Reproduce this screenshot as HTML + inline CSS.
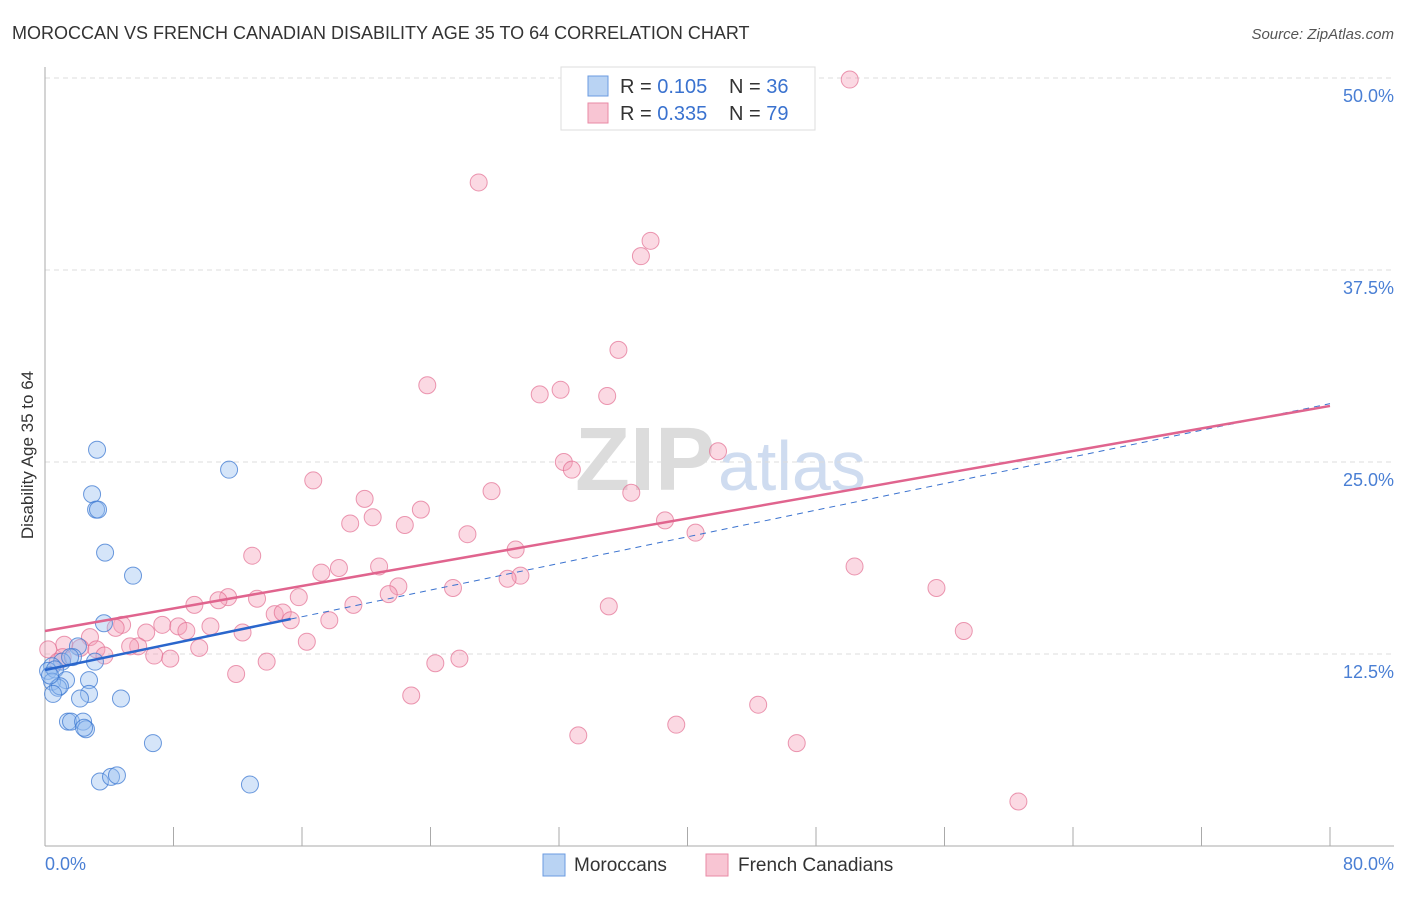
<!DOCTYPE html>
<html><head><meta charset="utf-8"><style>
body{margin:0;background:#fff;font-family:"Liberation Sans",sans-serif;}
svg text{font-family:"Liberation Sans",sans-serif;}
</style></head><body>
<svg id="chart" width="1406" height="892">
<text x="12" y="39" font-size="18" fill="#333">MOROCCAN VS FRENCH CANADIAN DISABILITY AGE 35 TO 64 CORRELATION CHART</text>
<text x="1394" y="39" font-size="15" fill="#555" font-style="italic" text-anchor="end">Source: ZipAtlas.com</text>
<text x="715" y="490" font-size="90" fill="#dcdcdc" text-anchor="end" font-family="Liberation Serif" font-weight="bold">ZIP</text>
<text x="718" y="490" font-size="70" fill="#cfdcf0">atlas</text>
<g id="grid"></g><g id="axes"></g><g id="marks"></g>
<text x="33" y="455" font-size="17" fill="#333" text-anchor="middle" transform="rotate(-90 33 455)">Disability Age 35 to 64</text>
<text x="45" y="870" font-size="18" fill="#4a7fd4">0.0%</text>
<text x="1394" y="870" font-size="18" fill="#4a7fd4" text-anchor="end">80.0%</text>
<g>
<rect x="561" y="67" width="254" height="63" fill="#fff" stroke="#ddd"/>
<rect x="588" y="76" width="20" height="20" fill="#b9d3f3" stroke="#6b9be0"/>
<rect x="588" y="103" width="20" height="20" fill="#f8c5d3" stroke="#e98aa6"/>
<text x="620" y="93" font-size="20" fill="#333">R = <tspan fill="#3a72cf">0.105</tspan></text>
<text x="729" y="93" font-size="20" fill="#333">N = <tspan fill="#3a72cf">36</tspan></text>
<text x="620" y="120" font-size="20" fill="#333">R = <tspan fill="#3a72cf">0.335</tspan></text>
<text x="729" y="120" font-size="20" fill="#333">N = <tspan fill="#3a72cf">79</tspan></text>
</g>
<g>
<rect x="543" y="854" width="22" height="22" fill="#b9d3f3" stroke="#6b9be0"/>
<text x="574" y="871" font-size="19" fill="#333">Moroccans</text>
<rect x="706" y="854" width="22" height="22" fill="#f8c5d3" stroke="#e98aa6"/>
<text x="738" y="871" font-size="19" fill="#333">French Canadians</text>
</g>
</svg>
<script>
const yTicks=[12.5,25,37.5,50];
const yTickLabels=["12.5%","25.0%","37.5%","50.0%"];
const xTicks=[0,8,16,24,32,40,48,56,64,72,80];
const blueX=[3.24,11.46,2.93,3.18,3.30,3.74,5.48,3.67,2.05,1.74,1.06,0.44,0.19,0.62,1.31,0.44,0.81,2.74,2.74,0.93,2.18,4.73,1.43,1.62,2.37,2.55,2.43,6.72,3.42,4.11,4.48,12.76,1.56,3.11,0.31,0.50];
const blueY=[25.8,24.5,22.9,21.9,21.9,19.1,17.6,14.5,13.0,12.3,12.0,11.7,11.4,11.5,10.8,10.7,10.3,10.8,9.9,10.4,9.6,9.6,8.1,8.1,8.1,7.6,7.7,6.7,4.2,4.5,4.6,4.0,12.3,12.0,11.1,9.9];
const pinkX=[50.1,27.0,37.7,37.1,35.7,23.8,32.1,30.8,35.0,41.9,32.3,32.8,16.7,27.8,36.5,19.9,23.4,20.4,19.0,22.4,38.6,26.3,40.5,29.3,12.9,50.4,20.8,18.3,17.2,29.6,28.8,22.0,25.4,21.4,55.5,15.8,11.4,10.8,13.2,9.3,19.2,35.1,14.3,14.8,15.3,4.8,17.7,57.2,7.3,4.4,8.3,10.3,6.3,8.8,12.3,2.8,16.3,5.8,5.3,9.6,1.2,2.2,3.2,3.7,1.1,6.8,7.8,0.2,0.8,13.8,24.3,25.8,11.9,22.8,44.4,39.3,33.2,46.8,60.6];
const pinkY=[49.9,43.2,39.4,38.4,32.3,30.0,29.7,29.4,29.3,25.7,25.0,24.5,23.8,23.1,23.0,22.6,21.9,21.4,21.0,20.9,21.2,20.3,20.4,19.3,18.9,18.2,18.2,18.1,17.8,17.6,17.4,16.9,16.8,16.4,16.8,16.2,16.2,16.0,16.1,15.7,15.7,15.6,15.1,15.2,14.7,14.4,14.7,14.0,14.4,14.2,14.3,14.3,13.9,14.0,13.9,13.6,13.3,13.0,13.0,12.9,13.1,12.9,12.8,12.4,12.3,12.4,12.2,12.8,12.0,12.0,11.9,12.2,11.2,9.8,9.2,7.9,7.2,6.7,2.9];
const blueTrend=[11.46,28.8];
const pinkTrend=[14.0,28.65];
const NS="http://www.w3.org/2000/svg";
const X0=45,X1=1330,YB=846,YS=15.36;
const sx=v=>X0+v/80*(X1-X0), sy=v=>YB-v*YS;
function mk(t,a,p){const e=document.createElementNS(NS,t);for(const k in a)e.setAttribute(k,a[k]);document.getElementById(p).appendChild(e);return e;}
yTicks.forEach((t,i)=>{
 const g=mk('line',{x1:X0,x2:1394,y1:sy(t),y2:sy(t),stroke:'#ddd','stroke-dasharray':'5,4'},'grid');
 
 
 const l=mk('text',{x:1394,y:sy(t)+24,'font-size':18,fill:'#4a7fd4','text-anchor':'end'},'grid');
 l.textContent=yTickLabels[i];
 
 
});
const ya=mk('line',{x1:X0,x2:X0,y1:67,y2:YB,stroke:'#aaa'},'axes');


const xa=mk('line',{x1:X0,x2:1394,y1:YB,y2:YB,stroke:'#aaa'},'axes');


xTicks.forEach(t=>{
 const e=mk('line',{x1:sx(t),x2:sx(t),y1:YB,y2:YB-19,stroke:'#aaa'},'axes');
 
 
});
pinkX.forEach((x,i)=>{
 const c=mk('circle',{cx:sx(x),cy:sy(pinkY[i]),r:8.5,fill:'rgba(244,160,185,0.4)',stroke:'rgba(226,110,145,0.7)','stroke-width':1},'marks');
 
 
});
blueX.forEach((x,i)=>{
 const c=mk('circle',{cx:sx(x),cy:sy(blueY[i]),r:8.5,fill:'rgba(150,190,240,0.4)',stroke:'rgba(60,120,210,0.75)','stroke-width':1},'marks');
 
 
});
const bAt=x=>blueTrend[0]+(blueTrend[1]-blueTrend[0])*x/80;
const bd=mk('line',{x1:sx(15.3),y1:sy(bAt(15.3)),x2:sx(80),y2:sy(blueTrend[1]),stroke:'#3a72cf','stroke-width':1,'stroke-dasharray':'6,5'},'marks');


const pl=mk('line',{x1:sx(0),y1:sy(pinkTrend[0]),x2:sx(80),y2:sy(pinkTrend[1]),stroke:'#e0648e','stroke-width':2.5},'marks');


const bl=mk('line',{x1:sx(0),y1:sy(blueTrend[0]),x2:sx(15.3),y2:sy(bAt(15.3)),stroke:'#2a66cc','stroke-width':2.5},'marks');


</script>
</body></html>
